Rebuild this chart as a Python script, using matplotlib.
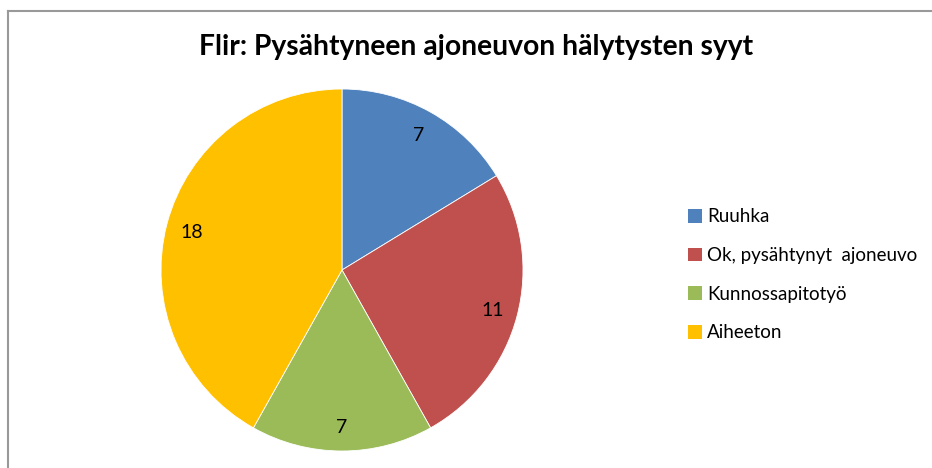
import matplotlib.pyplot as plt
from matplotlib.lines import Line2D
from matplotlib.patches import Patch

categories = ['Ruuhka', 'Ok, pysähtynyt  ajoneuvo', 'Kunnossapitotyö', 'Aiheeton']
values = [7, 11, 7, 18]
colors = ['#4F81BD', '#C0504D', '#9BBB59', '#FFC000']

plt.rcParams['font.family'] = ['Lato', 'DejaVu Sans']

W, H = 932, 468
fig = plt.figure(figsize=(W / 100, H / 100), dpi=100)

# pie axes: center (342, 270), radius 181 px
cx, cy, r = 342, 270, 181
ax = fig.add_axes([(cx - r) / W, (H - cy - r) / H, 2 * r / W, 2 * r / H])
wedges, texts = ax.pie(values, colors=colors, startangle=90, counterclock=False,
                       labels=[str(v) for v in values], labeldistance=0.86,
                       radius=1, wedgeprops=dict(linewidth=0.6, edgecolor='white'),
                       textprops=dict(fontsize=14, color='black'))
for t in texts:
    t.set_ha('center')
    t.set_va('center_baseline')
ax.set_xlim(-1, 1)
ax.set_ylim(-1, 1)
ax.set_aspect('equal')
ax.axis('off')

fig.text(476 / W, 1 - 47 / H, 'Flir: Pysähtyneen ajoneuvon hälytysten syyt',
         ha='center', va='center', fontsize=20.3, fontweight='bold')

handles = [Patch(facecolor=c, edgecolor='none') for c in colors]
fig.legend(handles, categories, loc='upper left', bbox_to_anchor=(680 / W, 1 - 201 / H),
           frameon=False, fontsize=13.5, handlelength=0.75, handleheight=0.75,
           handletextpad=0.3, labelspacing=1.15, borderaxespad=0)

# chart border (top and left edges visible)
fig.add_artist(Line2D([8 / W, 1], [1 - 11 / H, 1 - 11 / H], color='#999999', lw=1.5))
fig.add_artist(Line2D([8 / W, 8 / W], [0, 1 - 11 / H], color='#999999', lw=1.5))

fig.savefig('out.png', dpi=100)
